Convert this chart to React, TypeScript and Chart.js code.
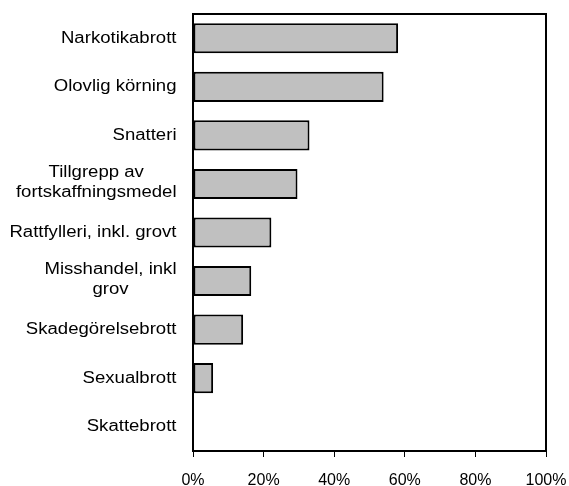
import { useEffect, useRef } from "react";
import { Chart, registerables } from "chart.js";

Chart.register(...registerables);

const categories: string[][] = [
  ["Narkotikabrott"],
  ["Olovlig körning"],
  ["Snatteri"],
  ["Tillgrepp av", "fortskaffningsmedel"],
  ["Rattfylleri, inkl. grovt"],
  ["Misshandel, inkl", "grov"],
  ["Skadegörelsebrott"],
  ["Sexualbrott"],
  ["Skattebrott"],
];
const values = [58.1, 54.0, 33.0, 29.6, 22.2, 16.5, 14.2, 5.7, 0];
const xTicks = [0, 20, 40, 60, 80, 100];

const FONT = "'Liberation Sans', Arial, sans-serif";

const labelPlugin = {
  id: "yLabelsAndFrame",
  afterDraw(chart: any) {
    const ctx = chart.ctx as CanvasRenderingContext2D;
    const y = chart.scales.y;
    const area = chart.chartArea;
    ctx.save();
    ctx.font = `16px ${FONT}`;
    ctx.fillStyle = "#000";
    ctx.textBaseline = "middle";
    ctx.textAlign = "center";
    const sx = 1.16;
    const right = area.left - 16.5;
    const lh = 20;
    (chart.data.labels as string[][]).forEach((lines, i) => {
      const cy = y.getPixelForTick(i);
      const w = Math.max(...lines.map((l) => ctx.measureText(l).width)) * sx;
      const cx = right - w / 2;
      const shift = lines.length > 1 ? -1.5 : 0;
      lines.forEach((l, j) => {
        ctx.save();
        ctx.translate(cx, cy + shift + (j - (lines.length - 1) / 2) * lh);
        ctx.scale(sx, 1);
        ctx.fillText(l, 0, 0);
        ctx.restore();
      });
    });
    ctx.lineWidth = 2;
    ctx.strokeStyle = "#000";
    ctx.strokeRect(area.left, area.top, area.right - area.left, area.bottom - area.top);
    ctx.restore();
  },
};

export default function App() {
  const ref = useRef<HTMLCanvasElement | null>(null);
  useEffect(() => {
    if (!ref.current) return;
    const chart = new Chart(ref.current, {
      type: "bar",
      data: {
        labels: categories as any,
        datasets: [
          {
            data: values,
            backgroundColor: "#c0c0c0",
            borderColor: "#000",
            borderWidth: 2,
            borderSkipped: false,
            barPercentage: 0.62,
            categoryPercentage: 1,
          },
        ],
      },
      options: {
        indexAxis: "y",
        responsive: false,
        animation: false,
        layout: { padding: { left: 193, right: 23, top: 14, bottom: -19 } },
        plugins: { legend: { display: false }, tooltip: { enabled: false } },
        scales: {
          x: {
            min: 0,
            max: 100,
            afterBuildTicks: (scale: any) => {
              scale.ticks = xTicks.map((v) => ({ value: v }));
            },
            afterFit: (scale: any) => {
              scale.paddingLeft = 0;
              scale.paddingRight = 0;
            },
            ticks: {
              callback: (v: any) => v + "%",
              color: "#000",
              font: { size: 16, family: FONT, lineHeight: 1 },
              padding: 16,
              maxRotation: 0,
            },
            grid: {
              drawOnChartArea: false,
              drawTicks: true,
              tickLength: 6,
              color: "#000",
              lineWidth: 1,
            },
            border: { display: false },
          },
          y: {
            ticks: { display: false },
            grid: { display: false, drawTicks: false },
            border: { display: false },
          },
        },
      },
      plugins: [labelPlugin],
    });
    return () => chart.destroy();
  }, []);
  return (
    <div style={{ position: "absolute", left: 0, top: 0, width: 569, height: 486, background: "#fff" }}>
      <canvas ref={ref} width={569} height={486} style={{ display: "block" }} />
    </div>
  );
}
